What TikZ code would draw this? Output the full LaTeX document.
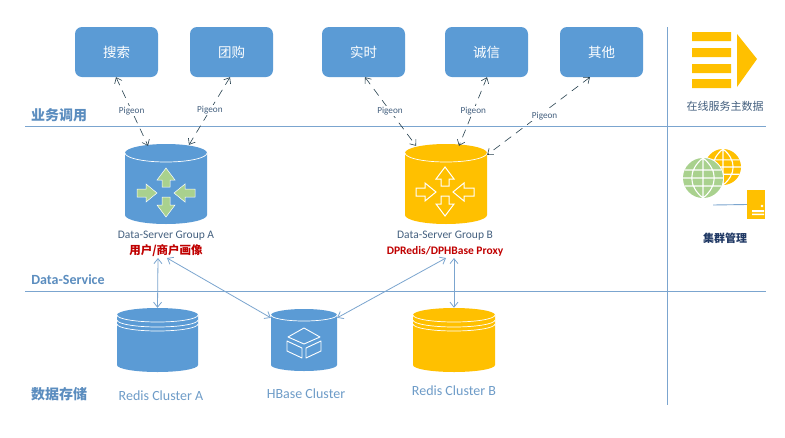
\documentclass[tikz,border=0pt]{standalone}
\usepackage{fontspec}
\setmainfont{Carlito}
\newfontfamily\cjk{Noto Sans CJK SC}
\usetikzlibrary{arrows.meta,calc}
\definecolor{cblue}{HTML}{5B9BD5}
\definecolor{corange}{HTML}{FFC000}
\definecolor{cgreen}{HTML}{A9D18E}
\definecolor{cline}{HTML}{7BA5CF}
\definecolor{cdash}{HTML}{27414F}
\definecolor{ctext}{HTML}{44607F}
\definecolor{clabel}{HTML}{6E9CC8}
\definecolor{chead}{HTML}{5B8DBF}
\definecolor{cred}{HTML}{C00000}
\definecolor{cnavy}{HTML}{1F3864}
\tikzset{
  appbox/.style={draw=none,fill=cblue,rounded corners=7pt,minimum width=83pt,minimum height=50pt,inner sep=0pt,text=white,font=\cjk\fontsize{13.5}{16}\selectfont},
  cylbox/.style={inner sep=0pt,draw=none},
  rule/.style={draw=cline,line width=0.9pt},
  pigeon/.style={-,dash pattern=on 8pt off 6pt,draw=cdash,line width=0.6pt,{Straight Barb[length=5pt,width=8pt]}-{Straight Barb[length=5pt,width=8pt]}},
  pigeontext/.style={fill=white,inner sep=1pt,text=ctext,font=\fontsize{9.2}{10}\selectfont},
  link/.style={draw=cline,line width=0.8pt,{Straight Barb[length=5pt,width=8pt]}-{Straight Barb[length=5pt,width=8pt]}},
  head/.style={text=chead,font=\cjk\bfseries\fontsize{14}{16}\selectfont},
  headlat/.style={text=chead,font=\bfseries\fontsize{14}{16}\selectfont},
  grouptext/.style={text=ctext,font=\fontsize{11.5}{13}\selectfont},
  redtext/.style={text=cred,font=\bfseries\fontsize{11.5}{13}\selectfont},
  clustertext/.style={text=clabel,font=\fontsize{14}{16}\selectfont},
}
% cx, top-ellipse centre y, bottom-ellipse centre y, rx, ry, colour, name
\newcommand{\mycyl}[7]{%
  \fill[#6] ({#1-#4},#2) -- ({#1-#4},#3) arc[start angle=180,end angle=360,x radius=#4pt,y radius=#5pt]
     -- ({#1+#4},#2) arc[start angle=0,end angle=180,x radius=#4pt,y radius=#5pt] -- cycle;
  \draw[white,line width=0.7pt] ({#1-#4},#2) arc[start angle=180,end angle=360,x radius=#4pt,y radius=#5pt];
  \node[cylbox,minimum width={2*#4 pt},minimum height={#3-#2+2*#5 pt}] (#7) at (#1,{(#2+#3)/2}) {};
}
% four arrows about a centre
\newcommand{\myarrows}[3]{%
  \begin{scope}[shift={(#1,#2)},#3]
    \path[#3,draw] (0,-25) -- (9,-13) -- (4,-13) -- (4,-6) -- (-4,-6) -- (-4,-13) -- (-9,-13) -- cycle;
    \path[#3,draw] (0,24) -- (9,12) -- (4,12) -- (4,4) -- (-4,4) -- (-4,12) -- (-9,12) -- cycle;
    \path[#3,draw] (-9,0) -- (-20,-9) -- (-20,-4) -- (-29,-4) -- (-29,4) -- (-20,4) -- (-20,9) -- cycle;
    \path[#3,draw] (8,0) -- (19,-9) -- (19,-4) -- (29,-4) -- (29,4) -- (19,4) -- (19,9) -- cycle;
  \end{scope}
}
\newcommand{\myglobe}[4]{%
  \begin{scope}
    \fill[#4] (#1,#2) circle (#3pt);
    \draw[white,line width=1.1pt] ({#1-#3},#2) -- ({#1+#3},#2)
      ({#1-0.92*#3},{#2-0.4*#3}) -- ({#1+0.92*#3},{#2-0.4*#3})
      ({#1-0.92*#3},{#2+0.4*#3}) -- ({#1+0.92*#3},{#2+0.4*#3})
      (#1,{#2-#3}) -- (#1,{#2+#3})
      (#1,{#2-#3}) .. controls ({#1-0.75*#3},{#2-0.4*#3}) and ({#1-0.75*#3},{#2+0.4*#3}) .. (#1,{#2+#3})
      (#1,{#2-#3}) .. controls ({#1+0.75*#3},{#2-0.4*#3}) and ({#1+0.75*#3},{#2+0.4*#3}) .. (#1,{#2+#3});
  \end{scope}
}
\begin{document}
\begin{tikzpicture}[x=1pt,y=-1pt]
\useasboundingbox (0,0) rectangle (785,437);
\fill[white] (0,0) rectangle (785,437);

% rules
\coordinate (r1a) at (25,126); \coordinate (r1b) at (766,126);
\coordinate (r2a) at (25,291); \coordinate (r2b) at (766,291);
\coordinate (r3a) at (667,27); \coordinate (r3b) at (667,405);
\draw[rule] (r1a) -- (r1b);
\draw[rule] (r2a) -- (r2b);
\draw[rule] (r3a) -- (r3b);

% app boxes
\node[appbox] (s1) at (116.5,52) {搜索};
\node[appbox] (s2) at (231.5,52) {团购};
\node[appbox] (s3) at (363.5,52) {实时};
\node[appbox] (s4) at (486.5,52) {诚信};
\node[appbox] (s5) at (601.5,52) {其他};

% cylinders
\mycyl{166}{153}{215}{41}{9}{cblue}{cylA}
\mycyl{446}{153}{215}{41}{9}{corange}{cylB}
\mycyl{157.5}{315}{365}{40.5}{7}{cblue}{redA}
\draw[white,line width=0.7pt] (117,320) arc[start angle=180,end angle=360,x radius=40.5pt,y radius=7pt];
\draw[white,line width=0.7pt] (117,324) arc[start angle=180,end angle=360,x radius=40.5pt,y radius=7pt];
\mycyl{304}{315}{365}{33}{6}{cblue}{hb}
\mycyl{454}{315}{365}{41}{7}{corange}{redB}
\draw[white,line width=0.7pt] (413,320) arc[start angle=180,end angle=360,x radius=41pt,y radius=7pt];
\draw[white,line width=0.7pt] (413,324) arc[start angle=180,end angle=360,x radius=41pt,y radius=7pt];

% icons in cylinders
\myarrows{166}{193}{fill=cgreen,draw=white,line width=0.5pt}
\myarrows{445}{192}{fill=corange,draw=white,line width=1pt}
\draw[white,line width=0.9pt,line join=round]
  (304,328) -- (320,337) -- (304,344) -- (288,337) -- cycle
  (287,341) -- (302,348) -- (302,358) -- (287,351) -- cycle
  (321,341) -- (306,348) -- (306,358) -- (321,351) -- cycle;

% text labels
\node[head] (h1) at (59,115) {业务调用};
\node[headlat] (h2) at (68,280) {Data-Service};
\node[head] (h3) at (59,394) {数据存储};
\node[grouptext] (ga) at (166,236) {Data-Server Group A};
\node[redtext] (gar) at (166,251) {\cjk 用户/商户画像};
\node[grouptext] (gb) at (445,236) {Data-Server Group B};
\node[redtext] (gbr) at (445,251) {DPRedis/DPHBase Proxy};
\node[clustertext] (la) at (161,396) {Redis Cluster A};
\node[clustertext] (lh) at (306,394) {HBase Cluster};
\node[clustertext] (lb) at (454,391) {Redis Cluster B};

% dashed connectors
\draw[pigeon] ([xshift=-0.5pt]s1.south) -- node[pigeontext,pos=.49] {Pigeon} ([xshift=-18pt,yshift=-2pt]cylA.north);
\draw[pigeon] ([xshift=-1.5pt]s2.south) -- node[pigeontext,pos=.49] {Pigeon} ([xshift=23pt,yshift=-1pt]cylA.north);
\draw[pigeon] ([xshift=1.5pt]s3.south) -- node[pigeontext,pos=.49] {Pigeon} ([xshift=-30pt,yshift=-2pt]cylB.north);
\draw[pigeon] ([xshift=0.5pt]s4.south) -- node[pigeontext,pos=.49] {Pigeon} ([xshift=13pt,yshift=-2pt]cylB.north);
\draw[pigeon] ([xshift=-11.5pt]s5.south) -- node[pigeontext,pos=.5,xshift=6pt] {Pigeon} ([yshift=-11pt]cylB.north east);

% solid connectors
\coordinate (aDown) at (158,258);
\coordinate (aSide) at (167,258);
\coordinate (bDown) at (454,258);
\coordinate (bSide) at (446,258);
\draw[link] (aDown) -- (redA.north);
\draw[link] (aSide) -- ([yshift=-9pt]hb.north west);
\draw[link] (bSide) -- ([yshift=-9pt]hb.north east);
\draw[link] (bDown) -- (redB.north);

% online master data icon
\fill[corange] (692,32) rectangle (731,41) (692,48) rectangle (731,57) (692,64) rectangle (731,73) (692,79) rectangle (731,88);
\fill[corange] (737,34) -- (757,59) -- (737,87) -- cycle;
\node[text=ctext,font=\cjk\fontsize{11}{13}\selectfont] (t1) at (725,106) {在线服务主数据};

% cluster management icon
\myglobe{723}{167}{18}{corange}
\fill[white] (703,178) circle (21pt);
\myglobe{703}{178}{20}{cgreen}
\node[draw=none,fill=corange,minimum width=18pt,minimum height=29pt,inner sep=0pt] (srv) at (756,204.5) {};
\coordinate (srvL) at (713,205);
\draw[cline,line width=0.9pt] (srvL) -- (srv.west);
\fill[white] (752,210) rectangle (764,212) (752,213.5) rectangle (764,215);
\fill[white] (762,206) circle (1.3pt);
\node[text=cnavy,font=\cjk\bfseries\fontsize{11}{13}\selectfont] (t2) at (725,238) {集群管理};
\end{tikzpicture}
\end{document}
